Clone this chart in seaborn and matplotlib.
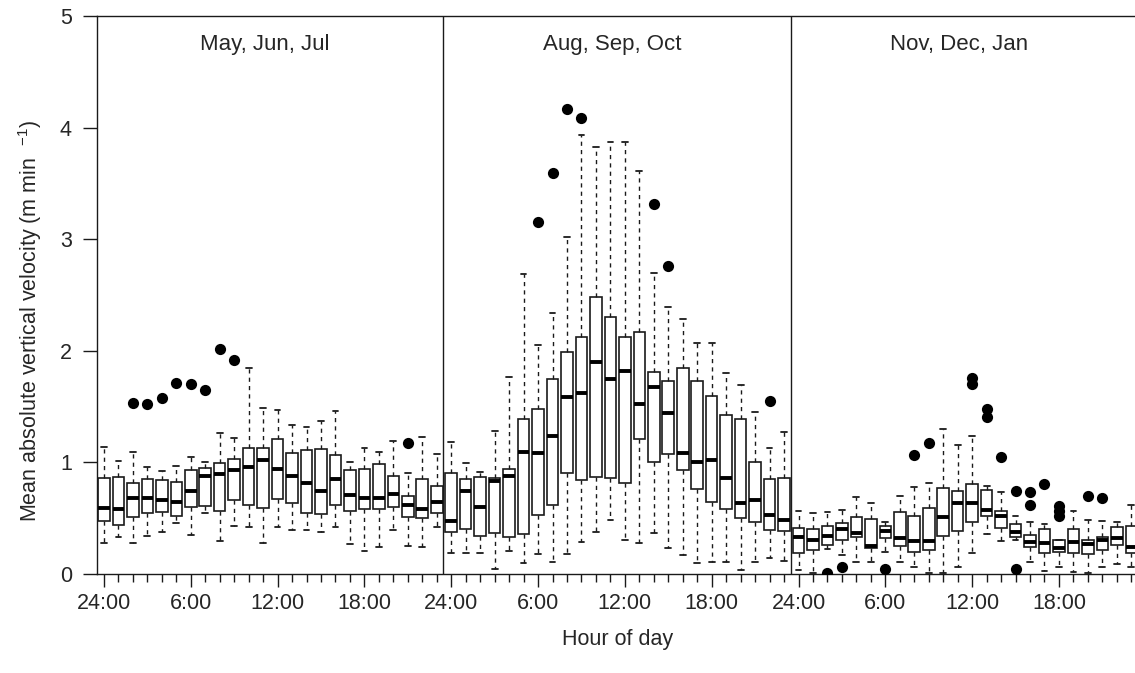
import numpy as np
import pandas as pd
import matplotlib
matplotlib.use("Agg")
import matplotlib.pyplot as plt
import seaborn as sns

# ------- data -------
seasons = ["May, Jun, Jul", "Aug, Sep, Oct", "Nov, Dec, Jan"]
hour_labels = ["24:00", "6:00", "12:00", "18:00"]

# per hour 0..23: lower whisker, lower quartile, median, upper quartile, upper whisker
mjj_lo = [0.28, 0.334, 0.28, 0.344, 0.38, 0.454, 0.349, 0.544, 0.298, 0.43, 0.418, 0.28,
          0.418, 0.394, 0.394, 0.38, 0.418, 0.266, 0.206, 0.245, 0.394, 0.251, 0.245, 0.424]
mjj_q1 = [0.475, 0.436, 0.514, 0.55, 0.553, 0.523, 0.597, 0.612, 0.567, 0.663, 0.618, 0.589,
          0.669, 0.633, 0.55, 0.538, 0.618, 0.565, 0.582, 0.582, 0.603, 0.508, 0.499, 0.55]
mjj_med = [0.594, 0.58, 0.684, 0.684, 0.663, 0.648, 0.744, 0.881, 0.896, 0.932, 0.962, 1.021,
           0.941, 0.881, 0.812, 0.746, 0.851, 0.708, 0.678, 0.684, 0.717, 0.618, 0.582, 0.642]
mjj_q3 = [0.863, 0.866, 0.818, 0.851, 0.842, 0.824, 0.932, 0.95, 0.992, 1.03, 1.132, 1.126,
          1.207, 1.087, 1.111, 1.12, 1.066, 0.932, 0.938, 0.983, 0.878, 0.699, 0.848, 0.789]
mjj_hi = [1.14, 1.015, 1.096, 0.962, 0.926, 0.971, 1.051, 1.006, 1.266, 1.216, 1.843, 1.49,
          1.47, 1.332, 1.314, 1.374, 1.46, 1.0, 1.132, 1.096, 1.195, 0.908, 1.23, 1.072]
mjj_out_hour = [2, 3, 4, 5, 6, 7, 8, 9, 21]
mjj_out_val = [1.53, 1.52, 1.574, 1.714, 1.70, 1.649, 2.013, 1.918, 1.177]

aso_lo = [0.191, 0.191, 0.185, 0.045, 0.209, 0.101, 0.176, 0.11, 0.176, 0.284, 0.379, 0.484,
          0.305, 0.28, 0.364, 0.23, 0.17, 0.101, 0.104, 0.104, 0.036, 0.104, 0.14, 0.116]
aso_q1 = [0.379, 0.40, 0.34, 0.364, 0.334, 0.355, 0.529, 0.618, 0.908, 0.842, 0.872, 0.863,
          0.812, 1.207, 1.0, 1.072, 0.932, 0.762, 0.642, 0.582, 0.505, 0.463, 0.394, 0.385]
aso_med = [0.475, 0.744, 0.603, 0.833, 0.878, 1.096, 1.087, 1.239, 1.583, 1.625, 1.903, 1.747,
           1.822, 1.52, 1.678, 1.44, 1.081, 1.006, 1.021, 0.857, 0.633, 0.663, 0.529, 0.484]
aso_q3 = [0.908, 0.848, 0.872, 0.863, 0.941, 1.389, 1.476, 1.744, 1.992, 2.127, 2.485, 2.306,
          2.121, 2.166, 1.807, 1.732, 1.849, 1.729, 1.598, 1.425, 1.386, 1.0, 0.848, 0.857]
aso_hi = [1.186, 0.992, 0.917, 1.284, 1.768, 2.688, 2.052, 2.336, 3.023, 3.934, 3.823, 3.868,
          3.868, 3.611, 2.694, 2.39, 2.282, 2.067, 2.067, 1.798, 1.694, 1.455, 1.126, 1.27]
aso_out_hour = [6, 7, 8, 9, 14, 15, 22]
aso_out_val = [3.157, 3.59, 4.164, 4.089, 3.312, 2.76, 1.55]

ndj_lo = [0.036, 0.012, 0.224, 0.17, 0.104, 0.104, 0.194, 0.11, 0.06, 0.006, 0.006, 0.066,
          0.191, 0.355, 0.296, 0.305, 0.11, 0.03, 0.06, 0.021, 0.006, 0.06, 0.09, 0.066]
ndj_q1 = [0.185, 0.215, 0.26, 0.305, 0.334, 0.23, 0.325, 0.254, 0.194, 0.215, 0.344, 0.388,
          0.469, 0.523, 0.409, 0.334, 0.245, 0.191, 0.20, 0.185, 0.176, 0.215, 0.26, 0.191]
ndj_med = [0.334, 0.305, 0.34, 0.403, 0.37, 0.254, 0.385, 0.32, 0.296, 0.296, 0.514, 0.639,
           0.633, 0.573, 0.523, 0.379, 0.29, 0.28, 0.236, 0.29, 0.266, 0.305, 0.325, 0.239]
ndj_q3 = [0.409, 0.40, 0.433, 0.454, 0.514, 0.49, 0.433, 0.559, 0.523, 0.589, 0.768, 0.744,
          0.806, 0.753, 0.568, 0.445, 0.349, 0.40, 0.305, 0.40, 0.305, 0.334, 0.418, 0.43]
ndj_hi = [0.565, 0.55, 0.559, 0.573, 0.693, 0.639, 0.469, 0.699, 0.777, 0.818, 1.299, 1.156,
          1.237, 0.789, 0.738, 0.52, 0.463, 0.445, 0.305, 0.568, 0.484, 0.475, 0.469, 0.618]
ndj_out_hour = [2, 3, 6, 8, 9, 12, 12, 13, 13, 14, 15, 15, 16, 16, 17, 18, 18, 18, 20, 21]
ndj_out_val = [0.006, 0.066, 0.042, 1.066, 1.171, 1.753, 1.70, 1.476, 1.404, 1.045, 0.747,
               0.042, 0.732, 0.616, 0.806, 0.612, 0.567, 0.523, 0.699, 0.684]
# ----------------------------------------

panels = [
    (mjj_lo, mjj_q1, mjj_med, mjj_q3, mjj_hi, mjj_out_hour, mjj_out_val),
    (aso_lo, aso_q1, aso_med, aso_q3, aso_hi, aso_out_hour, aso_out_val),
    (ndj_lo, ndj_q1, ndj_med, ndj_q3, ndj_hi, ndj_out_hour, ndj_out_val),
]

# five-number summary per box -> quartiles come out exactly, whiskers at min/max
box_rows = []
out_rows = []
for s, (lo, q1, med, q3, hi, oh, ov) in enumerate(panels):
    for h in range(24):
        for v in (lo[h], q1[h], med[h], q3[h], hi[h]):
            box_rows.append({"pos": s * 24 + h, "value": v})
    for h, v in zip(oh, ov):
        out_rows.append({"pos": s * 24 + h, "value": v})
df = pd.DataFrame(box_rows)
df_out = pd.DataFrame(out_rows)

sns.set_style("ticks")
plt.rcParams["font.family"] = ["Liberation Sans", "DejaVu Sans"]
plt.rcParams["mathtext.fontset"] = "custom"
plt.rcParams["mathtext.rm"] = "Liberation Sans"
plt.rcParams["mathtext.it"] = "Liberation Sans:italic"

fig = plt.figure(figsize=(11.35, 6.73), dpi=100)
W, H = 1135, 673
x_left, x_right = -0.48, 71.6
px_per_hour = 14.47
ax = fig.add_axes([97 / W, 1 - 574 / H, (x_right - x_left) * px_per_hour / W, 558 / H])

sns.boxplot(
    data=df, x="pos", y="value", native_scale=True, orient="x",
    whis=(0, 100), width=0.8, color="white", linecolor="#1a1a1a",
    showfliers=False, ax=ax,
    boxprops={"linewidth": 1.2},
    medianprops={"linewidth": 2.8, "color": "black"},
    whiskerprops={"linewidth": 1.0, "linestyle": (0, (3, 3))},
    capprops={"linewidth": 1.3},
)
sns.scatterplot(data=df_out, x="pos", y="value", color="black", s=65,
                linewidth=0, ax=ax, zorder=4)

for xd in (23.42, 47.45):
    ax.axvline(xd, color="#1a1a1a", linewidth=1.0, zorder=5)

for s, name in enumerate(seasons):
    ax.text(s * 24 + 11.1, 0.939, name, transform=ax.get_xaxis_transform(),
            ha="center", va="baseline", fontsize=16)

ax.set_xlim(x_left, x_right)
ax.set_ylim(0, 5)
major = [s * 24 + h for s in range(3) for h in (0, 6, 12, 18)]
ax.set_xticks(major)
ax.set_xticklabels(hour_labels * 3)
ax.set_xticks(range(72), minor=True)
ax.set_yticks(range(6))
ax.tick_params(axis="x", which="major", length=9.5, width=1, pad=4, labelsize=15.5, color="#1a1a1a")
ax.tick_params(axis="x", which="minor", length=5.8, width=1, color="#1a1a1a")
ax.tick_params(axis="y", length=10, width=1, pad=8, labelsize=15.5, color="#1a1a1a")
ax.set_xlabel("")
ax.set_ylabel("")
for sp in ("left", "bottom", "top", "right"):
    ax.spines[sp].set_visible(True)
    ax.spines[sp].set_color("#1a1a1a")
    ax.spines[sp].set_linewidth(1.0)

fig.text(618 / W, 1 - 640 / H, "Hour of day", ha="center", va="center", fontsize=15.5)
fig.text(30 / W, 1 - 321 / H, "Mean absolute vertical velocity (m min  $^{-1}$)",
         rotation=90, ha="center", va="center", fontsize=15.5)

fig.savefig("out.png", dpi=100)
